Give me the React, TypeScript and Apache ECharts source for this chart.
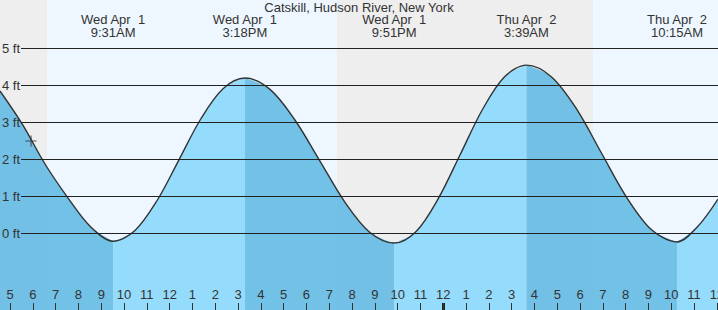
import React, { useEffect, useRef } from "react";
import * as echarts from "echarts";

const titleText = "Catskill, Hudson River, New York";

// tide curve (hours since Wed 00:00, feet)
const hours = [4.56, 5.55, 6.54, 7.53, 8.53, 9.52, 10.48, 11.45, 12.41, 13.37, 14.34, 15.3, 16.39, 17.48, 18.58, 19.67, 20.76, 21.85, 22.82, 23.78, 24.75, 25.72, 26.68, 27.65, 28.75, 29.85, 30.95, 32.05, 33.15, 34.25, 35.15, 36.05];
const heights = [3.84, 2.93, 1.86, 0.96, 0.17, -0.22, 0.07, 0.88, 1.98, 3.09, 3.9, 4.19, 3.89, 3.07, 1.96, 0.85, 0.03, -0.27, 0.05, 0.93, 2.13, 3.34, 4.22, 4.54, 4.22, 3.35, 2.15, 0.96, 0.08, -0.24, 0.17, 0.92];

// axis ranges and ticks
const xMin = 4.56;
const xMax = 36.05;
const yMin = -2.08;
const yMax = 6.3;
const hourTicks = [5, 6, 7, 8, 9, 10, 11, 12, 13, 14, 15, 16, 17, 18, 19, 20, 21, 22, 23, 24, 25, 26, 27, 28, 29, 30, 31, 32, 33, 34, 35, 36];
const gridLevels = [0, 1, 2, 3, 4, 5];
const midnightHour = 24;

// tide events
const eventHours = [9.52, 15.3, 21.85, 27.65, 34.25];
const eventDates = ["Wed Apr  1", "Wed Apr  1", "Wed Apr  1", "Thu Apr  2", "Thu Apr  2"];
const eventTimes = ["9:31AM", "3:18PM", "9:51PM", "3:39AM", "10:15AM"];

// daylight bands
const dayStarts = [6.62, 30.57];
const dayEnds = [19.34, 36.05];

// current time marker
const nowHour = 5.92;
const nowHeight = 2.49;

const FONT = "Liberation Sans, Arial, sans-serif";
const DARK_FILL = "#64bae3";
const LIGHT_FILL = "#8bd8fc";
const SMOOTH = 0.33;

export default function App() {
  const ref = useRef<HTMLDivElement>(null);
  useEffect(() => {
    if (!ref.current) return;
    const chart = echarts.init(ref.current, null, { renderer: "svg" });
    const pts = hours.map((h, i) => [h, heights[i]]);
    const bounds = [hours[0], ...eventHours, hours[hours.length - 1]];
    const fillSeries = [] as any[];
    for (let i = 0; i < bounds.length - 1; i++) {
      const seg = pts.filter((p) => p[0] >= bounds[i] - 1e-9 && p[0] <= bounds[i + 1] + 1e-9);
      fillSeries.push({
        type: "line",
        data: seg,
        smooth: SMOOTH,
        showSymbol: false,
        silent: true,
        lineStyle: { width: 0 },
        areaStyle: { origin: "start", color: i % 2 === 0 ? DARK_FILL : LIGHT_FILL, opacity: 0.9 },
        z: 3,
      });
    }
    const option: any = {
      animation: false,
      backgroundColor: "#eeeeee",
      textStyle: { fontFamily: FONT },
      title: {
        text: titleText,
        left: "center",
        top: 1,
        padding: 0,
        textStyle: { fontSize: 13, fontWeight: "normal", color: "#333", fontFamily: FONT },
      },
      grid: { left: 0, right: 0, top: 0, bottom: 0, containLabel: false, outerBoundsMode: "none" },
      xAxis: {
        type: "value",
        min: xMin,
        max: xMax,
        z: 10,
        axisLine: { show: false, onZero: false },
        axisTick: { inside: true, length: 7, lineStyle: { color: "#333" }, customValues: hourTicks },
        axisLabel: {
          inside: true,
          margin: 9,
          color: "#333",
          fontSize: 13,
          fontFamily: FONT,
          hideOverlap: false,
          customValues: hourTicks,
          formatter: (v: number) => {
            const h = ((Math.round(v) % 24) + 24) % 24;
            const h12 = h % 12 === 0 ? 12 : h % 12;
            return String(h12);
          },
        },
        splitLine: { show: false },
      },
      yAxis: {
        type: "value",
        min: yMin,
        max: yMax,
        z: 10,
        axisLine: { show: false, onZero: false },
        axisTick: { show: false },
        axisLabel: {
          inside: true,
          margin: 2,
          color: "#333",
          fontSize: 13,
          fontFamily: FONT,
          customValues: gridLevels,
          formatter: (v: number) => Math.round(v) + " ft",
        },
        splitLine: { show: false },
      },
      series: [
        {
          type: "line",
          data: [],
          z: 0,
          silent: true,
          markArea: {
            silent: true,
            itemStyle: { color: "#eef7ff" },
            data: dayStarts.map((s, i) => [{ xAxis: s }, { xAxis: dayEnds[i] }]),
          },
        },
        {
          type: "line",
          data: [],
          z: 1,
          silent: true,
          markLine: {
            silent: true,
            symbol: ["none", "none"],
            label: { show: false },
            lineStyle: { color: "#222", width: 1, type: "solid" },
            data: gridLevels.map((v) => [{ coord: [5.48, v] }, { coord: [xMax, v] }]),
          },
        },
        ...fillSeries,
        {
          type: "line",
          data: pts,
          smooth: SMOOTH,
          showSymbol: false,
          silent: true,
          lineStyle: { color: "#333", width: 1.4 },
          z: 4,
          markPoint: {
            silent: true,
            symbol: "circle",
            symbolSize: 1,
            itemStyle: { color: "rgba(0,0,0,0)" },
            label: {
              show: true,
              position: "inside",
              color: "#333",
              fontSize: 13,
              lineHeight: 13,
              fontFamily: FONT,
              align: "center",
              formatter: (p: any) => p.name,
            },
            data: eventHours.map((h, i) => ({ name: eventDates[i] + "\n" + eventTimes[i], coord: [h, 5.61] })),
          },
        },
        {
          type: "line",
          data: [],
          z: 11,
          silent: true,
          markLine: {
            silent: true,
            symbol: ["none", "none"],
            label: { show: false },
            lineStyle: { color: "#222", width: 3, type: "solid" },
            data: [[{ coord: [midnightHour, -1.89] }, { coord: [midnightHour, yMin] }]],
          },
        },
        {
          type: "scatter",
          data: [[nowHour, nowHeight]],
          symbol: "path://M4.5,0h1v4.5h4.5v1h-4.5v4.5h-1v-4.5h-4.5v-1h4.5z",
          symbolSize: 11,
          itemStyle: { color: "#333" },
          silent: true,
          z: 5,
        },
      ],
    };
    chart.setOption(option);
    return () => chart.dispose();
  }, []);
  return (
    <div
      ref={ref}
      style={{ position: "fixed", left: 0, top: 0, width: 718, height: 310 }}
    />
  );
}
